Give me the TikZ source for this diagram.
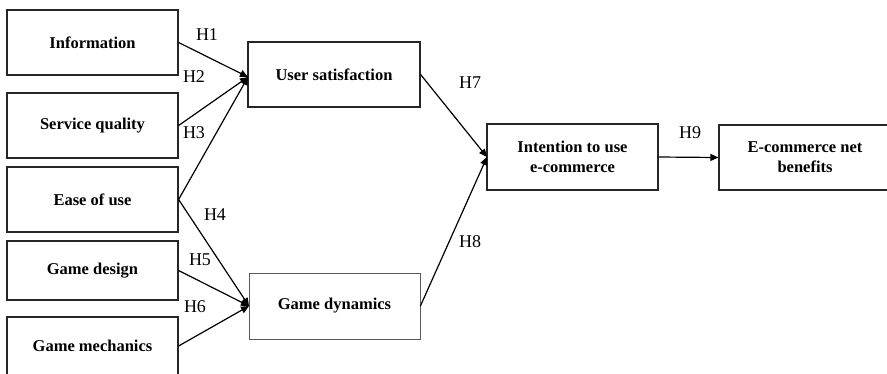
\documentclass[tikz,border=0pt]{standalone}
\usepackage{fontspec}
\setmainfont{Liberation Serif}
\usetikzlibrary{arrows.meta}
\begin{document}
\begin{tikzpicture}[x=1pt,y=-1pt,
  box/.style={draw=black!85,line width=1.2pt,rectangle,inner sep=0pt,
    font=\fontsize{16.5}{20}\selectfont\bfseries,align=center},
  lightbox/.style={box,draw=black!65,line width=0.8pt},
  lab/.style={font=\fontsize{18}{20}\selectfont,inner sep=0pt},
  arr/.style={line width=1.2pt,-{Triangle[length=8pt,width=7pt]}}]
\clip (0,0) rectangle (887,373);
\fill[white] (0,0) rectangle (887,373);
% left column
\node[box,minimum width=171pt,minimum height=65pt] (inf) at (92.5,42.5) {Information};
\node[box,minimum width=171pt,minimum height=65pt] (sq) at (92.5,125.5) {Service quality};
\node[box,minimum width=171pt,minimum height=65pt] (eou) at (92.5,199.5) {Ease of use};
\node[box,minimum width=171pt,minimum height=59pt] (gd) at (92.5,270.5) {Game design};
\node[box,minimum width=171pt,minimum height=58pt] (gm) at (92.5,346) {Game mechanics};
% middle
\node[box,minimum width=172pt,minimum height=65pt] (us) at (334,74.5) {User satisfaction};
\node[lightbox,minimum width=171pt,minimum height=66pt] (gdy) at (334.5,306) {Game dynamics};
% right
\node[box,minimum width=171pt,minimum height=66pt] (int) at (572.5,157) {Intention to use\\e-commerce};
\node[box,minimum width=172pt,minimum height=65pt] (ecb) at (805,157.5) {E-commerce net\\benefits};
% coordinates
\coordinate (usin) at (248,77);
\coordinate (gdin) at (249,306);
\coordinate (intin) at (487,157);
% arrows
\draw[arr] (inf.east) -- (usin);
\draw[arr] (sq.east) -- (usin);
\draw[arr] (eou.east) -- (usin);
\draw[arr] (eou.east) -- (gdin);
\draw[arr] (gd.east) -- (gdin);
\draw[arr] (gm.east) -- (gdin);
\draw[arr] (us.east) -- (intin);
\draw[arr] (gdy.east) -- (intin);
\draw[arr] (int.east) -- (ecb.west);
% labels
\node[lab] (h1) at (207,35) {H1};
\node[lab] (h2) at (194,77) {H2};
\node[lab] (h3) at (194,133) {H3};
\node[lab] (h4) at (215,215) {H4};
\node[lab] (h5) at (200,260) {H5};
\node[lab] (h6) at (195,307) {H6};
\node[lab] (h7) at (470,83) {H7};
\node[lab] (h8) at (470,242) {H8};
\node[lab] (h9) at (690,133) {H9};
\end{tikzpicture}
\end{document}
